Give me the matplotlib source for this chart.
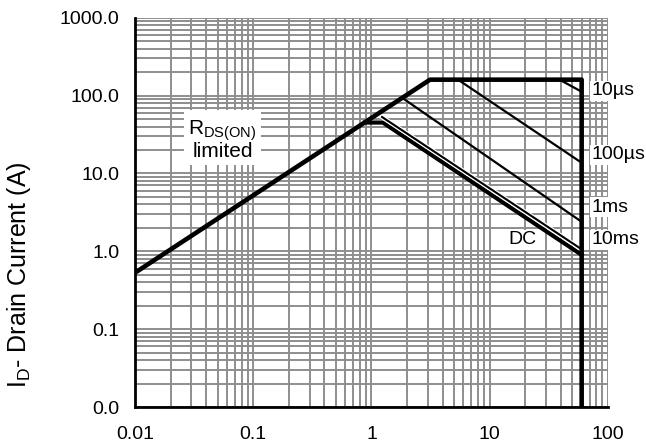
import matplotlib
matplotlib.use("Agg")
import matplotlib.pyplot as plt
import matplotlib.patheffects as pe
from matplotlib.ticker import LogLocator, FuncFormatter, FixedLocator

plt.rcParams["font.family"] = ["Liberation Sans", "DejaVu Sans"]
plt.rcParams["mathtext.default"] = "regular"

# safe operating area, drain-source voltage (V) vs drain current (A)
limit_v = [0.01, 3.13, 60, 60]
limit_i = [0.53, 160, 160, 0.01]

us10_v = [39, 60]
us10_i = [160, 112]
us100_v = [5.4, 60]
us100_i = [160, 13.7]
ms1_v = [1.81, 60]
ms1_i = [94, 2.39]
ms10_v = [1.23, 60]
ms10_i = [53, 1.06]
dc_v = [0.88, 1.25, 60]
dc_i = [45, 45, 0.9]

x_ticks = [0.01, 0.1, 1, 10, 100]
y_ticks = [0.01, 0.1, 1, 10, 100, 1000]

fig = plt.figure(figsize=(6.46, 4.48), dpi=100)
ax = fig.add_axes([0.209, 0.0915, 0.732, 0.869])
ax.set_xscale("log")
ax.set_yscale("log")
ax.set_xlim(0.01, 100)
ax.set_ylim(0.01, 1000)

ax.xaxis.set_major_locator(FixedLocator(x_ticks))
ax.yaxis.set_major_locator(FixedLocator(y_ticks))
ax.xaxis.set_minor_locator(LogLocator(base=10, subs=range(2, 10), numticks=20))
ax.yaxis.set_minor_locator(LogLocator(base=10, subs=range(2, 10), numticks=20))
ax.xaxis.set_major_formatter(FuncFormatter(lambda v, p: f"{v:g}"))
ax.yaxis.set_major_formatter(FuncFormatter(lambda v, p: f"{v:.1f}"))
ax.tick_params(which="both", length=0, labelsize=14, colors="black")
ax.tick_params(axis="x", pad=14)
ax.tick_params(axis="y", pad=11)

ax.grid(which="both", color="#8e8e8e", lw=1.4, zorder=0)
ax.set_axisbelow(True)
for side in ["top", "right"]:
    ax.spines[side].set_visible(False)
for side in ["left", "bottom"]:
    ax.spines[side].set_linewidth(2)

ax.plot(limit_v, limit_i, color="black", lw=3.3, solid_capstyle="butt", zorder=6)
ax.plot(us10_v, us10_i, color="black", lw=1.6, zorder=4)
ax.plot(us100_v, us100_i, color="black", lw=1.6, zorder=4)
ax.plot(ms1_v, ms1_i, color="black", lw=1.6, zorder=4)
ax.plot(dc_v, dc_i, color="black", lw=3, zorder=4)
ax.plot(ms10_v, ms10_i, color="black", lw=1.5, zorder=5,
        path_effects=[pe.withStroke(linewidth=3.2, foreground="white")])

box = dict(facecolor="white", edgecolor="none", pad=1)
ax.text(0.055, 27, "R$_{DS(ON)}$\nlimited", fontsize=15, ha="center", va="center",
        linespacing=0.9, bbox=dict(facecolor="white", edgecolor="none", pad=3), zorder=3)
for label, yv in [("10µs", 115), ("100µs", 17.3), ("1ms", 3.7), ("10ms", 1.4)]:
    ax.text(73, yv, label, fontsize=14, ha="left", va="center", bbox=box,
            clip_on=False, zorder=3)
ax.text(19.1, 1.4, "DC", fontsize=14, ha="center", va="center", bbox=box, zorder=3)

ax.set_ylabel("I$_{D}$- Drain Current (A)", fontsize=18)
ax.yaxis.set_label_coords(-0.215, 0.34)

fig.savefig("out.png", dpi=100)
plt.close(fig)
